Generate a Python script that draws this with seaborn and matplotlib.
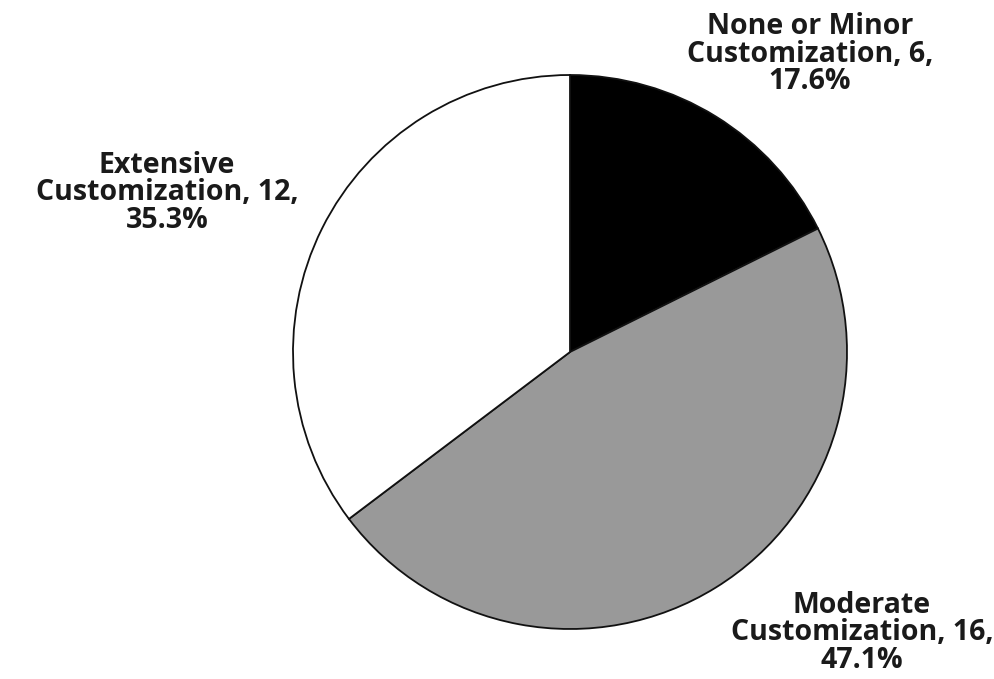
import matplotlib
matplotlib.use("Agg")
import matplotlib.pyplot as plt
import seaborn as sns

categories = ["None or Minor\nCustomization", "Moderate\nCustomization", "Extensive\nCustomization"]
counts = [6, 16, 12]
percents = ["17.6%", "47.1%", "35.3%"]
colors = ["#000000", "#999999", "#ffffff"]

sns.set_theme(style="white")
plt.rcParams['font.family'] = ['Open Sans', 'DejaVu Sans']

W, H = 995, 679
fig = plt.figure(figsize=(W / 100, H / 100), dpi=100)
cx, cy, r = 570, 352, 277
ax = fig.add_axes([(cx - r) / W, (H - cy - r) / H, 2 * r / W, 2 * r / H])
ax.pie(counts, colors=colors, startangle=90, counterclock=False,
       wedgeprops=dict(edgecolor="#111111", linewidth=1.3))
ax.set_xlim(-1, 1)
ax.set_ylim(-1, 1)
ax.set_aspect("auto")
ax.axis("off")

label_pos = [(810, 54), (862, 633), (167, 193)]
for (lab, n, p, (x, y)) in zip(categories, counts, percents, label_pos):
    txt = f"{lab}, {n},\n{p}"
    fig.text(x / W, 1 - y / H, txt, ha="center", va="center", fontsize=20.5,
             fontweight="bold", color="#1a1a1a", linespacing=0.95)

fig.savefig("out.png", dpi=100)
